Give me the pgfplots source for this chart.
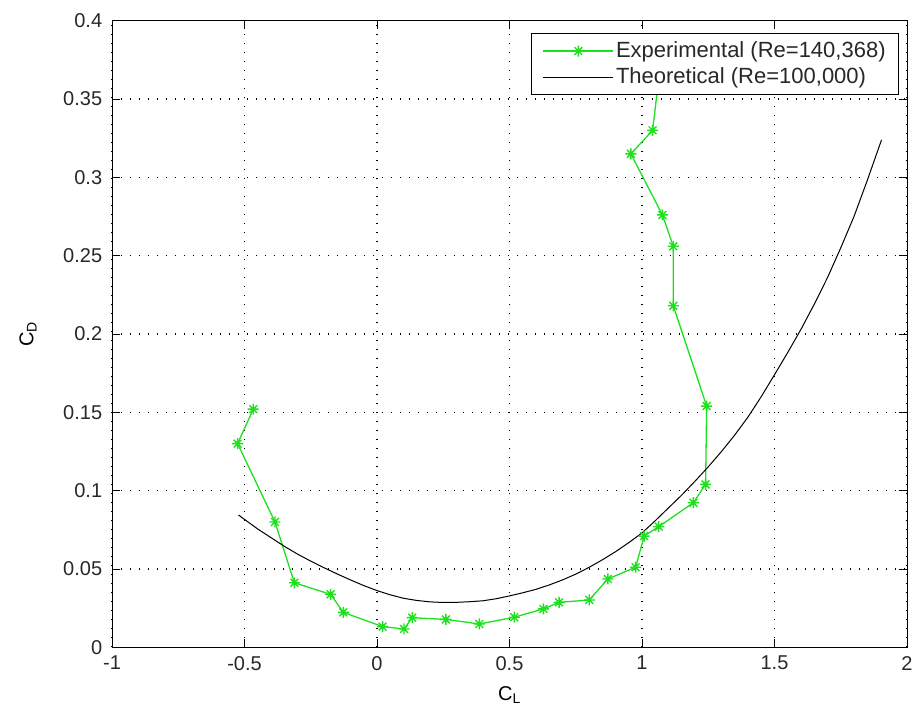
\documentclass[border=0pt]{standalone}
\usepackage{fontspec}
\setmainfont{Liberation Sans}
\usepackage{pgfplots}
\pgfplotsset{compat=1.18}
\definecolor{mgreen}{RGB}{30,225,30}
\definecolor{tickgray}{RGB}{40,40,40}
\pgfdeclareplotmark{mstar}{%
  \pgfpathmoveto{\pgfqpoint{-\pgfplotmarksize}{0pt}}%
  \pgfpathlineto{\pgfqpoint{\pgfplotmarksize}{0pt}}%
  \pgfpathmoveto{\pgfqpoint{0pt}{-\pgfplotmarksize}}%
  \pgfpathlineto{\pgfqpoint{0pt}{\pgfplotmarksize}}%
  \pgfpathmoveto{\pgfqpoint{-0.707\pgfplotmarksize}{-0.707\pgfplotmarksize}}%
  \pgfpathlineto{\pgfqpoint{0.707\pgfplotmarksize}{0.707\pgfplotmarksize}}%
  \pgfpathmoveto{\pgfqpoint{-0.707\pgfplotmarksize}{0.707\pgfplotmarksize}}%
  \pgfpathlineto{\pgfqpoint{0.707\pgfplotmarksize}{-0.707\pgfplotmarksize}}%
  \pgfusepathqstroke}
\begin{document}
\fontsize{20}{24}\selectfont
\begin{tikzpicture}
\path[use as bounding box] (-112pt,-69.7pt) rectangle (802pt,647.3pt);
\begin{axis}[
  at={(0,0)}, anchor=south west,
  scale only axis, width=795pt, height=626.6pt,
  xmin=-1, xmax=2, ymin=0, ymax=0.4,
  xtick={-1,-0.5,0,0.5,1,1.5,2},
  xticklabels={-1,-0.5,0,0.5,1,1.5,2},
  ytick={0,0.05,0.1,0.15,0.2,0.25,0.3,0.35,0.4},
  yticklabels={0,0.05,0.1,0.15,0.2,0.25,0.3,0.35,0.4},
  tick align=inside, major tick length=8pt,
  tick style={black, line width=0.8pt},
  xmajorgrids, ymajorgrids,
  grid style={black, line width=1.2pt, dash pattern=on 1.2pt off 7.8pt},
  axis line style={black, line width=0.9pt},
  tick label style={font=\fontsize{20}{24}\selectfont, text=tickgray},
  xticklabel style={yshift=-2pt},
  yticklabel style={xshift=-3pt},
  xlabel={C\textsubscript{L}},
  ylabel={C\textsubscript{D}},
  xlabel style={at={(rel axis cs:0.5,0)}, anchor=north, yshift=-32pt, font=\fontsize{20}{24}\selectfont},
  ylabel style={at={(rel axis cs:0,0.5)}, anchor=center, yshift=84pt, font=\fontsize{20}{24}\selectfont},
  legend style={at={(rel axis cs:0.990,0.980)}, anchor=north east,
    draw=black, line width=0.8pt, fill=white,
    font=\fontsize{22}{26}\selectfont, text=tickgray,
    inner xsep=11pt, inner ysep=6pt, row sep=3pt,
    cells={anchor=west}},
  legend image code/.code={\draw[mark repeat=2,mark phase=2] plot coordinates {(0pt,0pt) (35pt,0pt) (70pt,0pt)};},
  legend cell align=left,
]
\addplot[color=mgreen, line width=1.3pt, mark=mstar, mark size=5.5pt,
  mark options={line width=1.4pt, color=mgreen, solid}] coordinates {
  (-0.467,0.152) (-0.526,0.130) (-0.385,0.080) (-0.312,0.0412)
  (-0.175,0.0338) (-0.127,0.0223) (0.021,0.0132) (0.102,0.0117)
  (0.133,0.0189) (0.260,0.0178) (0.386,0.0149) (0.518,0.0192)
  (0.628,0.0245) (0.687,0.0287) (0.801,0.0302) (0.871,0.0436)
  (0.976,0.0511) (1.008,0.0710) (1.063,0.0770) (1.194,0.0923)
  (1.240,0.1040) (1.244,0.1540) (1.118,0.2180) (1.118,0.2560)
  (1.077,0.2760) (0.958,0.3150) (1.040,0.3300) (1.075,0.3800)
};
\addlegendentry{Experimental (Re=140,368)}
\addplot[color=black, line width=1.0pt] coordinates {
  (-0.523,0.0845) (-0.45,0.0755) (-0.40,0.0700) (-0.35,0.0645)
  (-0.30,0.0595) (-0.25,0.0550) (-0.20,0.0508) (-0.15,0.0468)
  (-0.10,0.0430) (-0.05,0.0394) (0.00,0.0362) (0.05,0.0335)
  (0.10,0.0313) (0.15,0.0299) (0.20,0.0290) (0.25,0.0286)
  (0.30,0.0287) (0.35,0.0291) (0.40,0.0297) (0.45,0.0310)
  (0.50,0.0328) (0.55,0.0348) (0.60,0.0370) (0.65,0.0398)
  (0.70,0.0430) (0.75,0.0467) (0.80,0.0510) (0.85,0.0558)
  (0.90,0.0610) (0.95,0.0668) (1.00,0.0730) (1.05,0.0808)
  (1.10,0.0890) (1.15,0.0972) (1.20,0.1060) (1.25,0.1152)
  (1.30,0.1250) (1.35,0.1355) (1.40,0.1470) (1.45,0.1600)
  (1.50,0.1740) (1.55,0.1882) (1.60,0.2030) (1.65,0.2190)
  (1.70,0.2360) (1.75,0.2550) (1.80,0.2750) (1.85,0.2980)
  (1.904,0.3240)
};
\addlegendentry{Theoretical (Re=100,000)}
\end{axis}
\end{tikzpicture}
\end{document}
